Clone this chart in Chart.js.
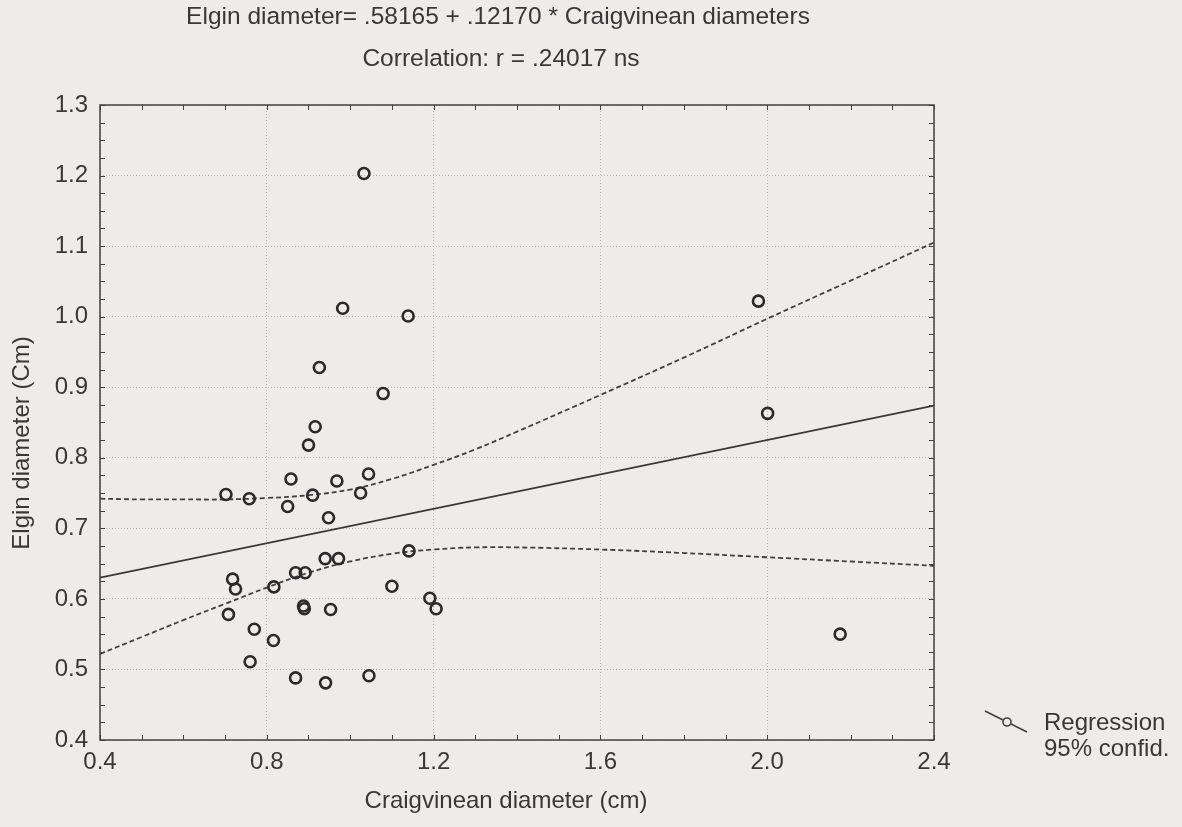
<!DOCTYPE html>
<html>
<head>
<meta charset="utf-8">
<script src="https://cdn.jsdelivr.net/npm/chart.js@4"></script>
<style>
  html, body { margin: 0; padding: 0; background: #ecebe8; }
  #wrap { width: 1182px; height: 827px; position: relative; }
</style>
</head>
<body>
<div id="wrap"><canvas id="c" width="1182" height="827"></canvas></div>
<script>
// ---- data ----
const craigvinean = [1.033, 0.982, 1.139, 0.926, 1.079, 0.916, 0.900, 0.858, 0.968, 1.044,
                     0.702, 0.758, 0.910, 1.025, 0.850, 0.948, 1.141, 0.940, 0.972, 0.869,
                     0.892, 0.718, 0.725, 0.817, 1.100, 1.191, 1.206, 0.888, 0.890, 0.953,
                     0.708, 0.770, 0.816, 0.760, 0.869, 0.941, 1.045, 1.979, 2.001, 2.175];
const elgin       = [1.203, 1.012, 1.001, 0.928, 0.891, 0.844, 0.818, 0.770, 0.767, 0.777,
                     0.748, 0.742, 0.747, 0.750, 0.731, 0.715, 0.668, 0.657, 0.657, 0.637,
                     0.637, 0.628, 0.614, 0.617, 0.618, 0.601, 0.586, 0.590, 0.586, 0.585,
                     0.578, 0.557, 0.541, 0.511, 0.488, 0.481, 0.491, 1.022, 0.863, 0.550];
const regX = [0.4, 2.4];
const regY = [0.630, 0.874];
const bandX     = [0.4, 0.5, 0.6, 0.7, 0.8, 0.9, 1.0, 1.1, 1.2, 1.3, 1.4, 1.6, 1.8, 2.0, 2.2, 2.4];
const bandUpper = [0.742, 0.741, 0.741, 0.741, 0.743, 0.747, 0.755, 0.770, 0.790, 0.812, 0.837, 0.889, 0.942, 0.997, 1.051, 1.105];
const bandLower = [0.522, 0.546, 0.570, 0.593, 0.616, 0.637, 0.653, 0.664, 0.670, 0.673, 0.673, 0.670, 0.665, 0.659, 0.653, 0.647];
const xTicks = [0.4, 0.8, 1.2, 1.6, 2.0, 2.4];
const yTicks = [0.4, 0.5, 0.6, 0.7, 0.8, 0.9, 1.0, 1.1, 1.2, 1.3];
const titleLines = ["Elgin diameter= .58165 + .12170 * Craigvinean diameters", "Correlation: r = .24017 ns"];
const xTitle = "Craigvinean diameter (cm)";
const yTitle = "Elgin diameter (Cm)";
const legendLines = ["Regression", "95% confid."];

const FONT = "'Liberation Sans', Arial, sans-serif";
const INK = '#383838';

const toXY = (xs, ys) => xs.map((x, i) => ({ x: x, y: ys[i] }));

const decor = {
  id: 'decor',
  beforeDraw(chart) {
    const ctx = chart.ctx;
    ctx.save();
    ctx.fillStyle = '#edece9';
    ctx.fillRect(0, 0, chart.width, chart.height);
    ctx.restore();
  },
  afterDraw(chart) {
    const ctx = chart.ctx;
    const a = chart.chartArea;
    const xs = chart.scales.x, ys = chart.scales.y;
    ctx.save();
    // frame
    ctx.strokeStyle = '#404040';
    ctx.lineWidth = 1.5;
    ctx.strokeRect(a.left, a.top, a.right - a.left, a.bottom - a.top);
    // inward minor ticks
    ctx.lineWidth = 1;
    ctx.beginPath();
    for (let v = 0.4; v <= 2.4001; v += 0.1) {
      const px = Math.round(xs.getPixelForValue(v)) + 0.5;
      ctx.moveTo(px, a.bottom); ctx.lineTo(px, a.bottom - 5);
      ctx.moveTo(px, a.top); ctx.lineTo(px, a.top + 5);
    }
    for (let v = 0.4; v <= 1.3001; v += 0.025) {
      const py = Math.round(ys.getPixelForValue(v)) + 0.5;
      ctx.moveTo(a.left, py); ctx.lineTo(a.left + 5, py);
      ctx.moveTo(a.right, py); ctx.lineTo(a.right - 5, py);
    }
    ctx.stroke();

    // titles
    ctx.fillStyle = INK;
    ctx.font = '24.5px ' + FONT;
    ctx.textAlign = 'center';
    ctx.textBaseline = 'alphabetic';
    ctx.fillText(titleLines[0], 498, 24);
    ctx.fillText(titleLines[1], 501, 66);
    ctx.font = '24px ' + FONT;
    // x title
    ctx.fillText(xTitle, 506, 808);
    // y title
    ctx.save();
    ctx.translate(29, 443);
    ctx.rotate(-Math.PI / 2);
    ctx.fillText(yTitle, 0, 0);
    ctx.restore();

    // legend
    ctx.strokeStyle = '#404040';
    ctx.lineWidth = 1.6;
    ctx.beginPath();
    ctx.moveTo(985, 711); ctx.lineTo(1003, 720);
    ctx.moveTo(1011, 724); ctx.lineTo(1027, 732);
    ctx.stroke();
    ctx.beginPath();
    ctx.arc(1007, 722, 4, 0, Math.PI * 2);
    ctx.stroke();
    ctx.textAlign = 'left';
    ctx.fillText(legendLines[0], 1044, 730);
    ctx.fillText(legendLines[1], 1044, 756);
    ctx.restore();
  }
};

new Chart(document.getElementById('c'), {
  type: 'scatter',
  data: {
    datasets: [
      {
        label: 'Observed',
        data: toXY(craigvinean, elgin),
        showLine: false,
        pointStyle: 'circle',
        pointRadius: 5.5,
        pointBorderWidth: 2.6,
        pointBorderColor: '#2a2a2a',
        pointBackgroundColor: 'rgba(0,0,0,0)',
        order: 0
      },
      {
        label: 'Regression',
        type: 'line',
        data: toXY(regX, regY),
        borderColor: '#383838',
        borderWidth: 1.7,
        pointRadius: 0,
        fill: false,
        order: 1
      },
      {
        label: '95% upper',
        type: 'line',
        data: toXY(bandX, bandUpper),
        borderColor: '#404040',
        borderWidth: 1.8,
        borderDash: [5, 3],
        tension: 0.4,
        pointRadius: 0,
        fill: false,
        order: 2
      },
      {
        label: '95% lower',
        type: 'line',
        data: toXY(bandX, bandLower),
        borderColor: '#404040',
        borderWidth: 1.8,
        borderDash: [5, 3],
        tension: 0.4,
        pointRadius: 0,
        fill: false,
        order: 2
      }
    ]
  },
  options: {
    responsive: false,
    animation: false,
    layout: { padding: { top: 105, right: 248, left: 0, bottom: 0 } },
    plugins: {
      legend: { display: false },
      title: { display: false },
      tooltip: { enabled: false }
    },
    scales: {
      x: {
        type: 'linear',
        min: 0.4, max: 2.4,
        afterFit: s => { s.height = 87; },
        afterBuildTicks: s => { s.ticks = xTicks.map(v => ({ value: v })); },
        ticks: {
          color: INK,
          font: { family: FONT, size: 24 },
          padding: 8,
          maxRotation: 0,
          callback: v => v.toFixed(1)
        },
        grid: { color: '#b9b9b6', lineWidth: 1, drawTicks: false },
        border: { display: false, dash: [1, 2] }
      },
      y: {
        type: 'linear',
        min: 0.4, max: 1.3,
        afterFit: s => { s.width = 100; },
        afterBuildTicks: s => { s.ticks = yTicks.map(v => ({ value: v })); },
        ticks: {
          color: INK,
          font: { family: FONT, size: 24 },
          padding: 12,
          callback: v => v.toFixed(1)
        },
        grid: { color: '#b9b9b6', lineWidth: 1, drawTicks: false },
        border: { display: false, dash: [1, 2] }
      }
    }
  },
  plugins: [decor]
});
</script>
</body>
</html>
